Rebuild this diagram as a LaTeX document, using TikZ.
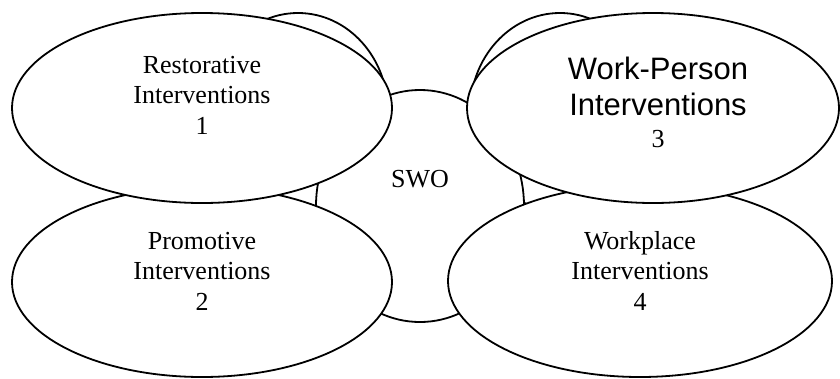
\documentclass[tikz,border=0pt]{standalone}
\usepackage{fontspec}
\setmainfont{Liberation Serif}
\newfontfamily\headsans{Liberation Sans}
\usetikzlibrary{shapes.geometric}
\begin{document}
\begin{tikzpicture}[x=1pt,y=-1pt,
  oval/.style 2 args={ellipse, draw=black, fill=white, line width=1.8pt,
    inner sep=0pt, minimum width=#1, minimum height=#2},
  txt/.style={align=center, inner sep=0pt, text=black,
    font=\fontsize{26}{30.5}\selectfont}]
\useasboundingbox (0,0) rectangle (840,378);
% ovals lying behind the two upper interventions
\node[oval={180pt}{198pt}] (backL) at (298,112) {};
\node[oval={180pt}{198pt}] (backR) at (560,112) {};
% central oval
\node[oval={208pt}{232pt}] (core) at (420,206) {};
% lower interventions
\node[oval={380pt}{190pt}] (promo) at (202,282) {};
\node[oval={384pt}{192pt}] (place) at (640,281) {};
% upper interventions
\node[oval={380pt}{190pt}] (resto) at (202,108) {};
\node[oval={372pt}{190pt}] (wperson) at (653,108) {};
% labels
\node[txt] (restoT) at (202,95.1) {Restorative\\Interventions\\1};
\node[txt] (promoT) at (202,270.9) {Promotive\\Interventions\\2};
\node[txt] (placeT) at (640,270.9) {Workplace\\Interventions\\4};
\node[txt, font=\fontsize{26}{32}\selectfont] (wpersonT) at (658,101.9)
  {{\headsans\fontsize{31}{36}\selectfont Work-Person}\\[4pt]{\headsans\fontsize{31}{36}\selectfont Interventions}\\3};
\node[txt, anchor=base] (coreT) at (420,187) {SWO};
\end{tikzpicture}
\end{document}
